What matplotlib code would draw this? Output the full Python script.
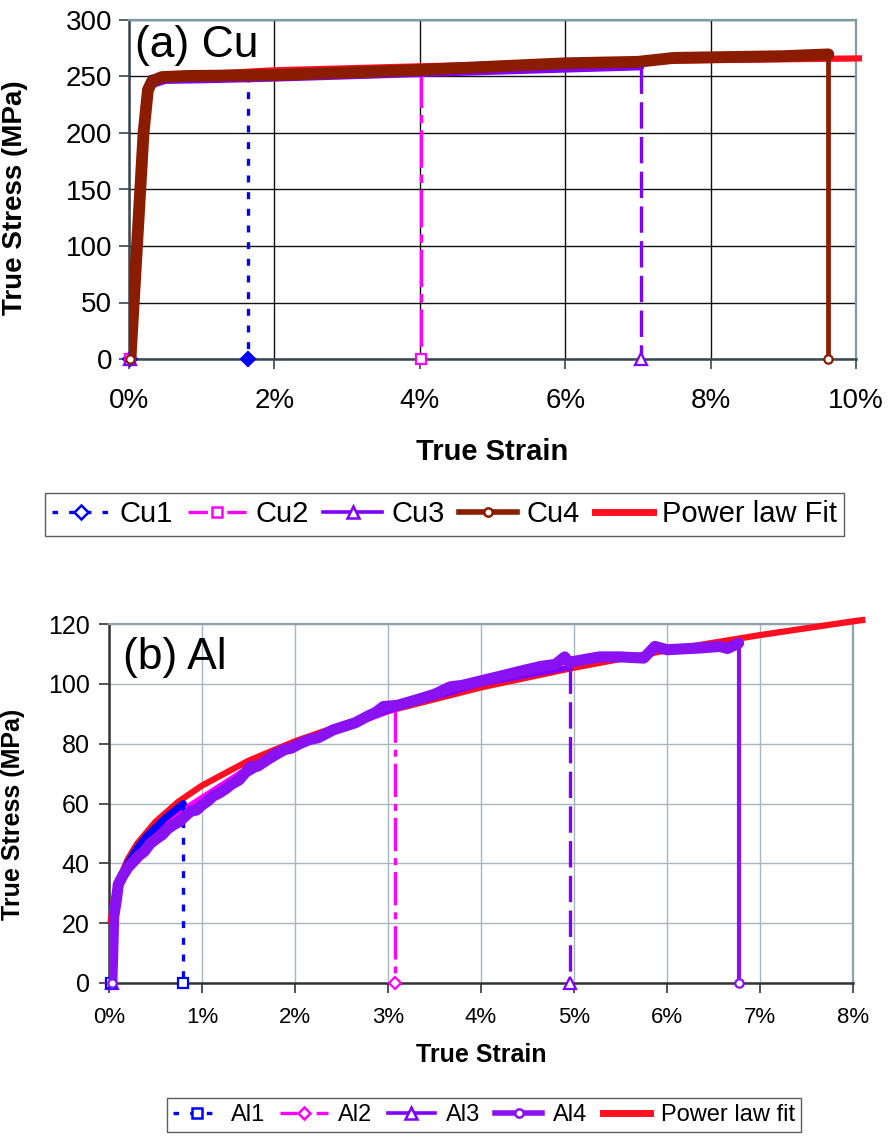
import numpy as np
import matplotlib
matplotlib.use("Agg")
import matplotlib.pyplot as plt
from matplotlib.lines import Line2D
from matplotlib.ticker import FuncFormatter, MultipleLocator

plt.rcParams['font.family'] = ['Liberation Sans', 'DejaVu Sans']
plt.rcParams['lines.scale_dashes'] = False

# ---- data: (a) Cu, strain as fraction, stress in MPa ----
cu1_strain = [0.0001, 0.0009, 0.0018, 0.0023, 0.0030, 0.0050, 0.0100, 0.0163, 0.0163]
cu1_stress = [0, 100, 200, 240, 249, 250, 250.5, 251, 0]
cu2_strain = [0.0002, 0.0010, 0.0019, 0.0024, 0.0031, 0.0050, 0.0100, 0.0200, 0.0300, 0.0402, 0.0402]
cu2_stress = [0, 100, 200, 238, 247, 249.5, 250.5, 252, 254, 255.5, 0]
cu3_strain = [0.0002, 0.0011, 0.0020, 0.0026, 0.0033, 0.0050, 0.0100, 0.0200, 0.0300,
              0.0400, 0.0500, 0.0600, 0.0704, 0.0704]
cu3_stress = [0, 100, 200, 235, 243, 246.5, 247, 248.5, 250.5, 252.5, 254.5, 256.5, 258.5, 0]
cu4_strain = [0.0002, 0.0011, 0.0020, 0.0026, 0.0032, 0.0045, 0.0080, 0.0200, 0.0300,
              0.0400, 0.0500, 0.0600, 0.0700, 0.0750, 0.0800, 0.0900, 0.0962, 0.0962]
cu4_stress = [0, 100, 200, 238, 246, 249.5, 250.5, 251.3, 253.5, 255.8, 258.8, 261.7,
              263, 266.5, 267, 268, 269.6, 0]
cu_fit_strain = [0.0040, 0.0100, 0.0200, 0.0400, 0.0600, 0.0800, 0.1004]
cu_fit_stress = [249, 252, 255.5, 259, 262, 264.5, 266]

# ---- data: (b) Al ----
al1_strain = [0.0002, 0.0004, 0.0010, 0.0020, 0.0030, 0.0040, 0.0050, 0.0060, 0.0070, 0.0080, 0.0080]
al1_stress = [0, 22, 34, 40, 45, 49, 52, 55, 57.5, 60, 0]
al2_strain = [0.0002, 0.0005, 0.0010, 0.0030, 0.0060, 0.0100, 0.0150, 0.0200, 0.0250, 0.0307, 0.0307]
al2_stress = [0, 25, 33, 44, 54, 62, 72, 79, 85, 91.5, 0]
al3_strain = [0.0003, 0.0005, 0.0010, 0.0030, 0.0060, 0.0100, 0.0150, 0.0200, 0.0300,
              0.0400, 0.0496, 0.0496]
al3_stress = [0, 24, 33, 43, 52, 60, 70, 79, 91, 100, 105.5, 0]
al4_strain = [0.0003, 0.0004, 0.0005, 0.0008, 0.0010, 0.0015, 0.0020, 0.0026, 0.0032, 0.0038,
              0.0044, 0.0050, 0.0057, 0.0063, 0.0070, 0.0076, 0.0082, 0.0088, 0.0094, 0.0100,
              0.0106, 0.0112, 0.0118, 0.0125, 0.0132, 0.0140, 0.0147, 0.0152, 0.0160, 0.0170,
              0.0178, 0.0188, 0.0196, 0.0205, 0.0215, 0.0225, 0.0241, 0.0255, 0.0265, 0.0277,
              0.0287, 0.0295, 0.0310, 0.0330, 0.0350, 0.0367, 0.0380, 0.0400, 0.0420, 0.0446,
              0.0464, 0.0480, 0.0490, 0.0495, 0.0500, 0.0527, 0.0550, 0.0575, 0.0587, 0.0600,
              0.0636, 0.0657, 0.0665, 0.0677, 0.0677]
al4_stress = [0, 10, 22, 28, 33, 36, 38.5, 40.5, 42.5, 44, 46.5, 48, 49.5, 51.5, 53, 54, 55.8,
              57.5, 57.8, 59.5, 60.8, 62.5, 63.4, 64.8, 66.5, 67.9, 70.5, 72.3, 72.5, 74.6, 76.5,
              78, 78.5, 80, 81.3, 82, 84.6, 86, 87, 89, 90.5, 92.4, 92.8, 94.6, 96.5, 99, 99.5,
              101, 102.5, 104.5, 105.8, 106.5, 109, 107, 107.5, 109, 109, 108.6, 112.5, 111.4,
              112, 112.5, 111.8, 113.6, 0]
al_fit_strain = [0.0002, 0.0005, 0.0010, 0.0020, 0.0030, 0.0050, 0.0075, 0.0100, 0.0150, 0.0200,
                 0.0250, 0.0300, 0.0400, 0.0500, 0.0600, 0.0700, 0.0800, 0.0810]
al_fit_stress = [21, 27.6, 33.8, 41.3, 46.5, 53.9, 60.7, 66, 74.3, 80.8, 86.2, 90.9, 98.8,
                 105.4, 111.2, 116.3, 120.9, 121.3]

BLUE = '#0000FF'
MAGENTA = '#FF00FF'
PURPLE = '#8000FF'
AL4_PURPLE = '#8A12F2'
BROWN = '#8B1C00'
RED = '#FF1020'


def pct(v, _pos):
    return f"{v * 100:.0f}%"


def draw_series(ax, strain, stress, color, curve_lw, drop_lw, dashes, marker, msize,
                mface='white', zorder=3):
    # curve part, dense data in the original so it looks solid
    ax.plot(strain[:-1], stress[:-1], color=color, lw=curve_lw, solid_capstyle='round',
            solid_joinstyle='round', zorder=zorder)
    # drop to zero at failure strain
    drop = ax.plot(strain[-2:], stress[-2:], color=color, lw=drop_lw, zorder=zorder)[0]
    if dashes is not None:
        drop.set_dashes(dashes)
    ax.plot([strain[0], strain[-1]], [stress[0], stress[-1]], ls='none', marker=marker,
            ms=msize, mfc=mface, mec=color, mew=1.6, zorder=zorder + 0.5, clip_on=False)


def style_axes(ax, grid_color, top_color, tick_color):
    ax.grid(True, color=grid_color, lw=1.0, zorder=0)
    ax.set_axisbelow(True)
    for side in ('top', 'right'):
        ax.spines[side].set_color(top_color)
        ax.spines[side].set_linewidth(1.6)
    for side in ('left', 'bottom'):
        ax.spines[side].set_color(tick_color)
        ax.spines[side].set_linewidth(1.8)
    ax.xaxis.set_major_formatter(FuncFormatter(pct))


fig = plt.figure(figsize=(8.91, 11.37), dpi=100)

# ---------------- (a) Cu ----------------
ax1 = fig.add_axes([129 / 891, 1 - 359 / 1137, 727 / 891, 339 / 1137])
ax1.set_xlim(0, 0.10)
ax1.set_ylim(0, 300)
ax1.xaxis.set_major_locator(MultipleLocator(0.02))
ax1.yaxis.set_major_locator(MultipleLocator(50))
style_axes(ax1, '#111111', '#7F9AA3', '#37474F')
ax1.tick_params(axis='x', length=7, width=1.2, color='#37474F', labelsize=20, pad=14)
ax1.tick_params(axis='y', length=7, width=1.2, color='#37474F', labelsize=20, pad=5)

draw_series(ax1, cu1_strain, cu1_stress, BLUE, 4, 2.4, (5, 7), 'D', 7, mface=BLUE)
draw_series(ax1, cu2_strain, cu2_stress, MAGENTA, 4, 2.4, (27, 5, 6, 5), 's', 7)
draw_series(ax1, cu3_strain, cu3_stress, PURPLE, 5, 2.4, (19, 6), '^', 8)
ax1.plot(cu_fit_strain, cu_fit_stress, color=RED, lw=4.5, zorder=4, clip_on=False)
draw_series(ax1, cu4_strain, cu4_stress, BROWN, 8.5, 3.4, None, 'o', 6, zorder=5)

ax1.text(0.008, 0.926, '(a) Cu', transform=ax1.transAxes, fontsize=32, va='center',
         ha='left', zorder=6)
ax1.set_ylabel('True Stress (MPa)', fontsize=20, fontweight='bold')
ax1.yaxis.set_label_coords(-0.139, 0.476)
ax1.set_xlabel('True Strain', fontsize=21, fontweight='bold')
ax1.xaxis.set_label_coords(0.5, -0.274)
ax1.xaxis.label.set_va('center')

cu_handles = [
    Line2D([], [], color=BLUE, lw=2.4, dashes=(4, 8), marker='D', ms=7, mfc='white', mec=BLUE, mew=1.8),
    Line2D([], [], color=MAGENTA, lw=2.4, dashes=(14, 5, 4, 5), marker='s', ms=7, mfc='white', mec=MAGENTA, mew=1.8),
    Line2D([], [], color=PURPLE, lw=2.6, marker='^', ms=8, mfc='white', mec=PURPLE, mew=1.8),
    Line2D([], [], color=BROWN, lw=4, marker='o', ms=6, mfc='white', mec=BROWN, mew=1.8),
    Line2D([], [], color=RED, lw=5),
]
fig.legend(cu_handles, ['Cu1', 'Cu2', 'Cu3', 'Cu4', 'Power law Fit'],
           loc='upper left', bbox_to_anchor=(45 / 891, 1 - 493 / 1137), ncol=5,
           fontsize=21, frameon=True, fancybox=False, edgecolor='#333333',
           handlelength=2.0, handletextpad=0.32, columnspacing=0.5, borderpad=0.25,
           borderaxespad=0)

# ---------------- (b) Al ----------------
ax2 = fig.add_axes([109 / 891, 1 - 983 / 1137, 744 / 891, 359 / 1137])
ax2.set_xlim(0, 0.08)
ax2.set_ylim(0, 120)
ax2.xaxis.set_major_locator(MultipleLocator(0.01))
ax2.yaxis.set_major_locator(MultipleLocator(20))
style_axes(ax2, '#A7B7BF', '#8FA3AB', '#333333')
ax2.tick_params(axis='x', length=7, width=1.2, color='#333333', labelsize=16, pad=10)
ax2.tick_params(axis='y', length=7, width=1.2, color='#333333', labelsize=18, pad=7)

ax2.plot(al_fit_strain, al_fit_stress, color=RED, lw=4.5, zorder=3, clip_on=False)
draw_series(ax2, al1_strain, al1_stress, BLUE, 5, 2.4, (5, 7), 's', 7, zorder=4)
draw_series(ax2, al2_strain, al2_stress, MAGENTA, 4, 2.4, (24, 5, 5, 5), 'D', 6, zorder=3.5)
draw_series(ax2, al3_strain, al3_stress, PURPLE, 4, 2.4, (19, 6), '^', 8, zorder=3.5)
draw_series(ax2, al4_strain, al4_stress, AL4_PURPLE, 8, 3.0, None, 'o', 6, zorder=5)

ax2.text(0.019, 0.908, '(b) Al', transform=ax2.transAxes, fontsize=32, va='center',
         ha='left', zorder=6)
ax2.set_ylabel('True Stress (MPa)', fontsize=18, fontweight='bold')
ax2.yaxis.set_label_coords(-0.113, 0.471)
ax2.set_xlabel('True Strain', fontsize=18, fontweight='bold')
ax2.xaxis.set_label_coords(0.5, -0.2006)
ax2.xaxis.label.set_va('center')

al_handles = [
    Line2D([], [], color=BLUE, lw=2.4, dashes=(4, 8), marker='s', ms=7, mfc='white', mec=BLUE, mew=1.8),
    Line2D([], [], color=MAGENTA, lw=2.4, dashes=(12, 5, 4, 5), marker='D', ms=6, mfc='white', mec=MAGENTA, mew=1.8),
    Line2D([], [], color=PURPLE, lw=2.6, marker='^', ms=8, mfc='white', mec=PURPLE, mew=1.8),
    Line2D([], [], color=AL4_PURPLE, lw=4, marker='o', ms=6, mfc='white', mec=AL4_PURPLE, mew=1.8),
    Line2D([], [], color=RED, lw=5),
]
fig.legend(al_handles, ['Al1', 'Al2', 'Al3', 'Al4', 'Power law fit'],
           loc='upper left', bbox_to_anchor=(167 / 891, 1 - 1098 / 1137), ncol=5,
           fontsize=17, frameon=True, fancybox=False, edgecolor='#333333',
           handlelength=2.0, handletextpad=0.45, columnspacing=0.65, borderpad=0.25,
           borderaxespad=0)

fig.savefig('out.png', dpi=100)
